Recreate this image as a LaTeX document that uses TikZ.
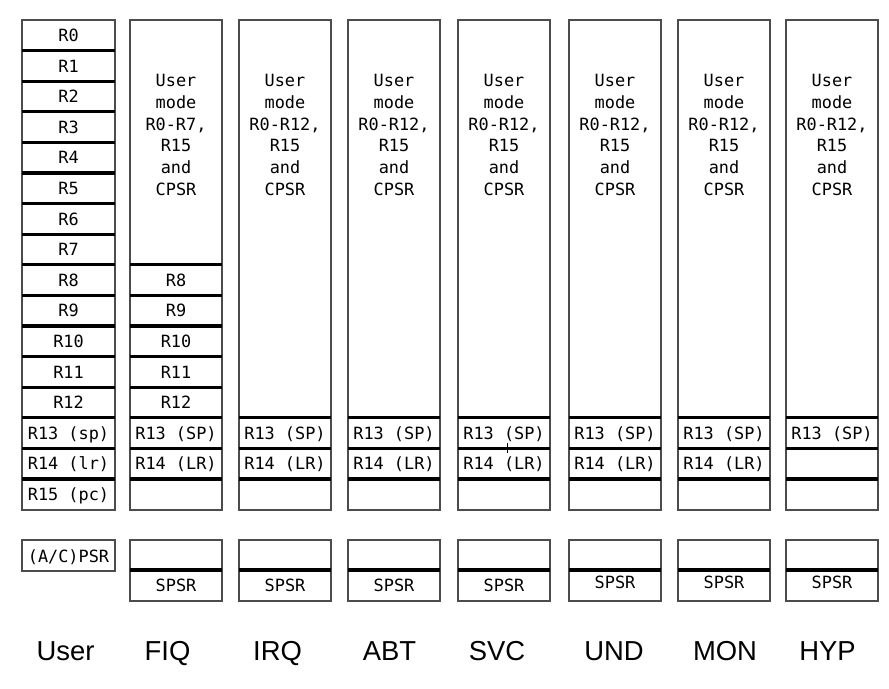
\documentclass[tikz,border=0pt]{standalone}
\usepackage{fontspec}
\setmonofont{DejaVu Sans Mono}
\setsansfont{Liberation Sans}
\usetikzlibrary{positioning}

\tikzset{
  frame/.style={draw=black!70, line width=1.4pt},
  sep/.style={draw=black, line width=2.2pt},
  reg/.style={font=\ttfamily\fontsize{12}{15.6}\selectfont, inner sep=0pt, anchor=base},
  usertxt/.style={font=\ttfamily\fontsize{12}{15.6}\selectfont, inner sep=0pt, align=center},
  modename/.style={font=\sffamily\fontsize{19.5}{22}\selectfont, inner sep=0pt, anchor=base}
}

\begin{document}
\begin{tikzpicture}[x=0.025cm, y=-0.025cm]
\useasboundingbox (0,0) rectangle (889,689);

% User mode: R0..R15
\draw[frame] (22,20) rectangle (115,510);
\foreach \i in {1,...,15}
  \draw[sep] (22,20+30.6*\i) -- (115,20+30.6*\i);
\foreach \i in {0,...,12}
  \node[reg] (u\i) at (68.5,41.5+30.6*\i) {R\i};
\node[reg] (u13) at (68.5,41.5+30.6*13) {R13 (sp)};
\node[reg] (u14) at (68.5,41.5+30.6*14) {R14 (lr)};
\node[reg] (u15) at (68.5,41.5+30.6*15) {R15 (pc)};
\draw[frame] (22,540) rectangle (115,571);
\node[reg] (upsr) at (68.5,562) {(A/C)PSR};
\node[modename] (user) at (65.5,660) {User};

% FIQ
\draw[frame] (130,20) rectangle (222,510);
\foreach \i in {8,...,15}
  \draw[sep] (130,20+30.6*\i) -- (222,20+30.6*\i);
\node[usertxt] (fiqtxt) at (176,135) {User\\mode\\R0-R7,\\R15\\and\\CPSR};
\foreach \i in {8,...,12}
  \node[reg] (fiq\i) at (176,41.5+30.6*\i) {R\i};
\node[reg] (fiq13) at (176,41.5+30.6*13) {R13 (SP)};
\node[reg] (fiq14) at (176,41.5+30.6*14) {R14 (LR)};
\draw[frame] (130,540) rectangle (222,601);
\draw[sep] (130,570) -- (222,570);
\node[reg] (fiqpsr) at (176,591.5) {SPSR};
\node[modename] (fiq) at (167.5,660) {FIQ};

% IRQ, ABT, SVC, UND, MON
\foreach \x/\m/\lx/\py in {239/IRQ/277.5/591.5, 348/ABT/389.5/591.5, 458/SVC/497/591.5, 569/UND/614/588.5, 678/MON/725/588.5} {
  \draw[frame] (\x,20) rectangle (\x+92,510);
  \foreach \i in {13,14,15}
    \draw[sep] (\x,20+30.6*\i) -- (\x+92,20+30.6*\i);
  \node[usertxt] (\m txt) at (\x+46,135) {User\\mode\\R0-R12,\\R15\\and\\CPSR};
  \node[reg] (\m13) at (\x+46,41.5+30.6*13) {R13 (SP)};
  \node[reg] (\m14) at (\x+46,41.5+30.6*14) {R14 (LR)};
  \draw[frame] (\x,540) rectangle (\x+92,601);
  \draw[sep] (\x,570) -- (\x+92,570);
  \node[reg] (\m psr) at (\x+46,\py) {SPSR};
  \node[modename] (\m) at (\lx,660) {\m};
}
\draw[black, line width=0.6pt] (507,443) -- (507,453);

% HYP
\draw[frame] (786,20) rectangle (878,510);
\foreach \i in {13,14,15}
  \draw[sep] (786,20+30.6*\i) -- (878,20+30.6*\i);
\node[usertxt] (hyptxt) at (832,135) {User\\mode\\R0-R12,\\R15\\and\\CPSR};
\node[reg] (hyp13) at (832,41.5+30.6*13) {R13 (SP)};
\draw[frame] (786,540) rectangle (878,601);
\draw[sep] (786,570) -- (878,570);
\node[reg] (hyppsr) at (832,588.5) {SPSR};
\node[modename] (hyp) at (827.5,660) {HYP};
\end{tikzpicture}
\end{document}
